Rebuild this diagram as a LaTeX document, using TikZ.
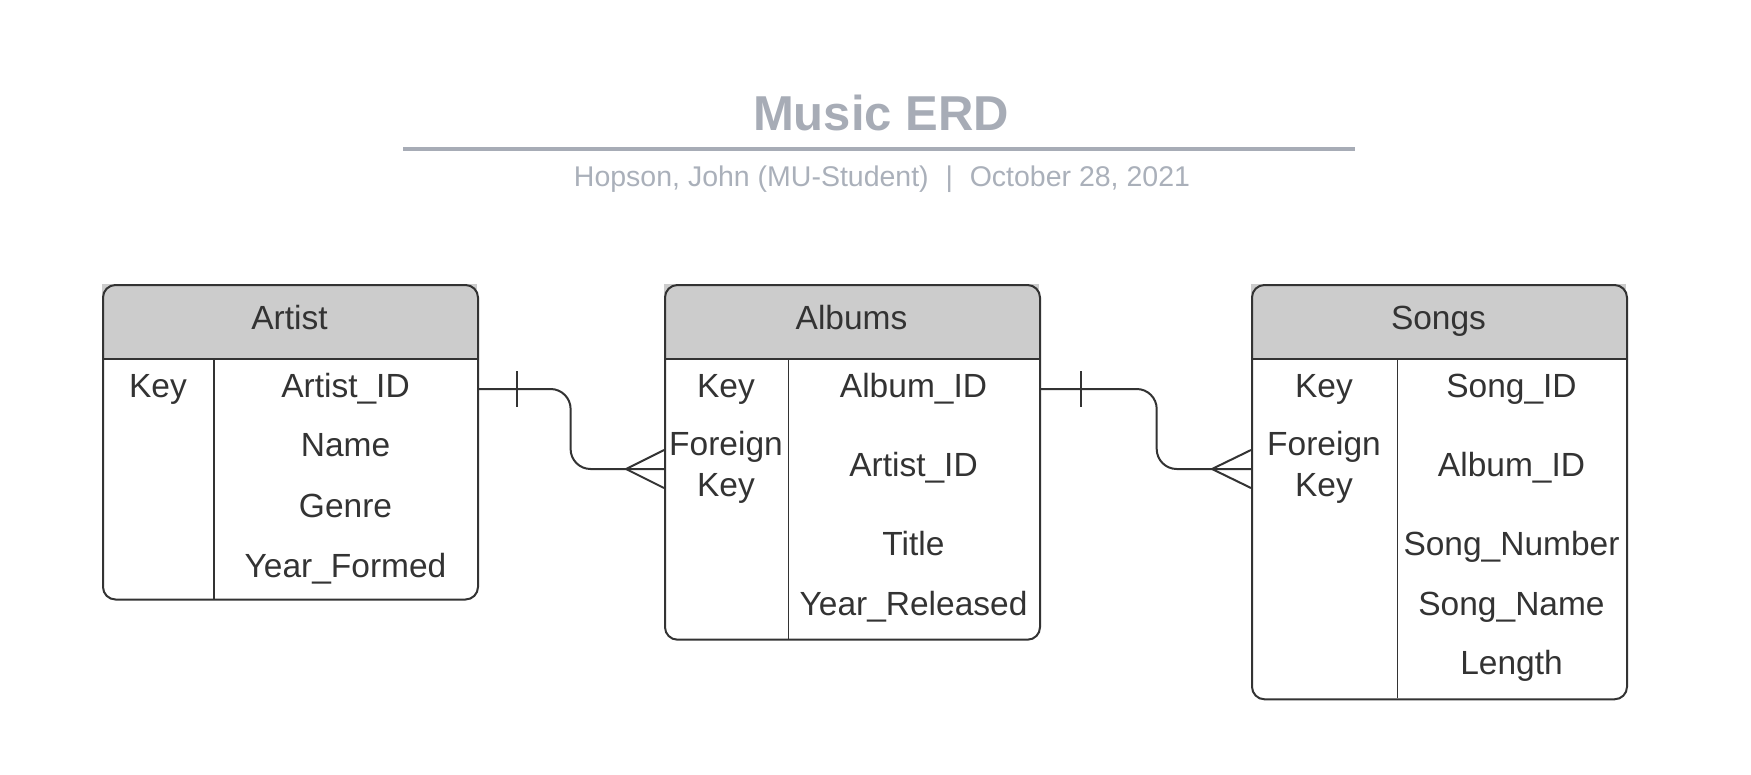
\documentclass[tikz,border=0pt]{standalone}
\usepackage{fontspec}
\setmainfont{Liberation Sans}
\usetikzlibrary{calc}
\definecolor{ink}{HTML}{333333}
\definecolor{hdrgray}{HTML}{CCCCCC}
\definecolor{titlegray}{RGB}{167,172,182}
\definecolor{subgray}{RGB}{170,176,186}
\begin{document}
\begin{tikzpicture}[x=1pt,y=-1pt,
  tbl/.style={draw=ink, line width=2pt, rounded corners=12.5pt, anchor=north west, inner sep=0pt, minimum width=375pt},
  cell/.style={text=ink, font=\fontsize{33.5}{40}\selectfont, anchor=base, inner sep=0pt},
  sep/.style={draw=ink, line width=1.5pt},
  conn/.style={draw=ink, line width=2pt},
  hdr/.style={fill=hdrgray}]
\useasboundingbox (0,0) rectangle (1751,774);

% ---- title ----
\node[font=\fontsize{49}{58}\selectfont\bfseries, text=titlegray, anchor=base, inner sep=0pt] (title) at (881,130.3) {Music ERD};
\draw[titlegray, line width=4pt] (403,149) -- (1354.5,149);
\node[font=\fontsize{28.5}{34}\selectfont, text=subgray, anchor=base, inner sep=0pt] (subtitle) at (882,186.6) {Hopson, John (MU-Student)\hspace{16.8pt}|\hspace{16.8pt}October 28, 2021};

% ---- header fills ----
\fill[hdr] (102,284) rectangle (477,359);
\fill[hdr] (664,284) rectangle (1039,359);
\fill[hdr] (1251,284) rectangle (1626,359);

% ---- tables ----
\node[tbl, minimum height=314.5pt] (artist) at (102,284) {};
\node[tbl, minimum height=354.7pt] (albums) at (664,284) {};
\node[tbl, minimum height=414.3pt] (songs) at (1251,284) {};

% separators
\draw[sep] (102,359) -- (477,359);
\draw[sep] (214,359) -- (214,598.5);
\draw[sep] (664,359) -- (1039,359);
\draw[sep] (788.4,359) -- (788.4,638.7);
\draw[sep] (1251,359) -- (1626,359);
\draw[sep] (1397.3,359) -- (1397.3,698.3);

% ---- Artist ----
\node[cell] (artist-h) at (289.5,329.5) {Artist};
\node[cell] (artist-k) at (158,397.3) {Key};
\node[cell] (artist-1) at (345.5,397.3) {Artist\_ID};
\node[cell] (artist-2) at (345.5,456.8) {Name};
\node[cell] (artist-3) at (345.5,517.3) {Genre};
\node[cell] (artist-4) at (345.5,577.8) {Year\_Formed};

% ---- Albums ----
\node[cell] (albums-h) at (851.5,329.5) {Albums};
\node[cell] (albums-k) at (726,397.3) {Key};
\node[cell] (albums-f1) at (726,455.8) {Foreign};
\node[cell] (albums-f2) at (726,496.8) {Key};
\node[cell] (albums-1) at (913.5,397.3) {Album\_ID};
\node[cell] (albums-2) at (913.5,476.3) {Artist\_ID};
\node[cell] (albums-3) at (913.5,555.6) {Title};
\node[cell] (albums-4) at (913.5,615.9) {Year\_Released};

% ---- Songs ----
\node[cell] (songs-h) at (1438.5,329.5) {Songs};
\node[cell] (songs-k) at (1324,397.3) {Key};
\node[cell] (songs-f1) at (1324,455.8) {Foreign};
\node[cell] (songs-f2) at (1324,496.8) {Key};
\node[cell] (songs-1) at (1511.5,397.3) {Song\_ID};
\node[cell] (songs-2) at (1511.5,476.3) {Album\_ID};
\node[cell] (songs-3) at (1511.5,555.3) {Song\_Number};
\node[cell] (songs-4) at (1511.5,615.9) {Song\_Name};
\node[cell] (songs-5) at (1511.5,674.6) {Length};

% ---- connectors ----
\coordinate (a1) at ($(artist.north east)+(0,105)$);
\coordinate (b1) at ($(albums.north west)+(0,185)$);
\coordinate (a2) at ($(albums.north east)+(0,105)$);
\coordinate (b2) at ($(songs.north west)+(0,185)$);
\coordinate (k1) at (570.6,430);
\coordinate (k2) at (1156.7,430);

\draw[conn, rounded corners=20pt] (a1) -- (a1 -| k1) -- (b1 -| k1) -- (b1);
\draw[conn] ($(a1)+(38,-18)$) -- ($(a1)+(38,18)$);
\draw[conn] ($(b1)+(-38,0)$) -- ($(b1)+(0,-19)$);
\draw[conn] ($(b1)+(-38,0)$) -- ($(b1)+(0,19)$);

\draw[conn, rounded corners=20pt] (a2) -- (a2 -| k2) -- (b2 -| k2) -- (b2);
\draw[conn] ($(a2)+(39.5,-18)$) -- ($(a2)+(39.5,18)$);
\draw[conn] ($(b2)+(-39,0)$) -- ($(b2)+(0,-19)$);
\draw[conn] ($(b2)+(-39,0)$) -- ($(b2)+(0,19)$);
\end{tikzpicture}
\end{document}
